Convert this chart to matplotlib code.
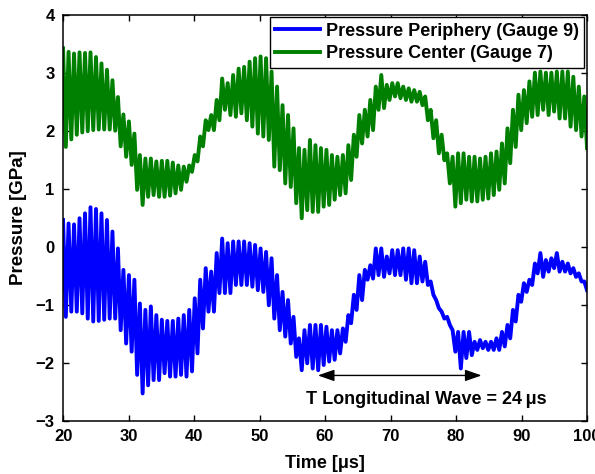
import numpy as np
import matplotlib
matplotlib.use("Agg")
import matplotlib.pyplot as plt

# peak / trough of each oscillation cycle (GPa)
center_peaks = [3.42, 3.36, 3.33, 3.35, 3.34, 3.35, 3.27, 3.16, 3.05, 2.87, 2.58, 2.28, 2.16, 1.95, 1.58, 1.52,
                1.52, 1.47, 1.48, 1.48, 1.45, 1.40, 1.38, 1.40, 1.58, 1.90, 2.18, 2.27, 2.53, 2.90, 2.82, 2.96,
                3.07, 3.10, 3.19, 3.25, 3.28, 3.25, 3.02, 2.76, 2.44, 2.27, 2.04, 1.70, 1.67, 1.84, 1.75, 1.70,
                1.67, 1.58, 1.55, 1.58, 1.75, 1.93, 2.27, 2.36, 2.53, 2.76, 2.96, 2.79, 2.82, 2.82, 2.76, 2.73,
                2.70, 2.67, 2.59, 2.36, 2.18, 1.93, 1.61, 1.55, 1.61, 1.61, 1.55, 1.55, 1.52, 1.55, 1.61, 1.64,
                1.78, 2.04, 2.36, 2.62, 2.70, 2.85, 3.00, 3.02, 3.00, 3.00, 3.02, 3.02, 3.02, 2.93, 2.76, 2.59]
center_troughs = [1.72, 1.85, 1.93, 1.97, 1.99, 2.01, 2.02, 2.02, 2.02, 2.00, 1.73, 1.55, 1.41, 0.98, 0.72, 0.86,
                  0.89, 0.86, 0.86, 0.88, 0.92, 0.98, 1.12, 1.29, 1.47, 1.73, 2.01, 2.01, 2.18, 2.36, 2.27, 2.24,
                  2.30, 2.18, 2.07, 1.95, 1.90, 1.84, 1.38, 1.32, 1.09, 1.03, 0.75, 0.49, 0.63, 0.60, 0.60, 0.69,
                  0.72, 0.81, 0.89, 0.92, 1.15, 1.55, 1.78, 1.90, 2.01, 2.36, 2.39, 2.53, 2.59, 2.56, 2.53, 2.50,
                  2.50, 2.44, 2.18, 1.87, 1.61, 1.49, 1.09, 0.69, 0.75, 0.81, 0.78, 0.78, 0.81, 0.83, 0.89, 0.98,
                  1.09, 1.44, 1.72, 2.01, 2.13, 2.24, 2.27, 2.36, 2.27, 2.33, 2.21, 2.21, 2.07, 2.01, 1.90, 1.70]

periph_peaks = [0.46, 0.40, 0.385, 0.49, 0.575, 0.68, 0.65, 0.575, 0.46, 0.26, -0.03, -0.40, -0.49, -0.57, -0.98, -1.09,
                -1.03, -1.18, -1.26, -1.28, -1.28, -1.24, -1.18, -1.09, -0.89, -0.57, -0.37, -0.43, -0.11, 0.14, 0.06, 0.09,
                0.09, 0.09, 0.06, 0.03, -0.03, -0.09, -0.20, -0.49, -0.78, -0.92, -1.21, -1.58, -1.44, -1.35, -1.35, -1.35,
                -1.38, -1.44, -1.44, -1.41, -1.18, -0.83, -0.49, -0.40, -0.32, -0.03, -0.03, -0.17, -0.06, -0.06, -0.03, -0.03,
                -0.06, -0.17, -0.26, -0.60, -0.92, -1.12, -1.21, -1.44, -1.47, -1.47, -1.47, -1.64, -1.61, -1.64, -1.64, -1.58,
                -1.47, -1.35, -1.09, -0.83, -0.63, -0.57, -0.29, -0.11, -0.23, -0.20, -0.11, -0.26, -0.29, -0.37, -0.46, -0.60]
periph_troughs = [-1.21, -1.12, -1.12, -1.15, -1.24, -1.29, -1.28, -1.26, -1.24, -1.24, -1.44, -1.67, -1.81, -2.21, -2.53, -2.39,
                  -2.30, -2.30, -2.18, -2.24, -2.24, -2.21, -2.24, -2.15, -1.84, -1.41, -1.12, -1.12, -0.80, -0.80, -0.80, -0.66,
                  -0.66, -0.66, -0.69, -0.75, -0.78, -1.01, -1.24, -1.44, -1.55, -1.67, -1.90, -2.13, -2.01, -2.10, -2.13, -2.04,
                  -1.98, -1.95, -1.84, -1.64, -1.32, -1.09, -0.92, -0.57, -0.55, -0.49, -0.52, -0.46, -0.49, -0.49, -0.57, -0.63,
                  -0.63, -0.60, -0.66, -0.83, -1.06, -1.24, -1.35, -1.81, -2.10, -1.92, -1.87, -1.78, -1.75, -1.78, -1.78, -1.78,
                  -1.72, -1.58, -1.29, -0.95, -0.78, -0.66, -0.46, -0.52, -0.43, -0.37, -0.43, -0.43, -0.46, -0.52, -0.60, -0.75]

t_start, t_end = 20, 100
arrow_span = (58.9, 83.9)
arrow_y = -2.22
wave_label = "T Longitudinal Wave = 24\u2009\u03bcs"


def zigzag(peaks, troughs):
    vals = np.column_stack([peaks, troughs]).ravel()
    t = np.linspace(t_start, t_end, len(vals))
    return t, vals


plt.rcParams["font.family"] = ["Liberation Sans", "DejaVu Sans"]
plt.rcParams["font.weight"] = "bold"

fig = plt.figure(figsize=(5.95, 4.74), dpi=100)
ax = fig.add_axes([0.106, 0.1125, 0.8806, 0.8565])

t_b, p_b = zigzag(periph_peaks, periph_troughs)
t_g, p_g = zigzag(center_peaks, center_troughs)
ax.plot(t_b, p_b, color="#0000ff", lw=2.8, label="Pressure Periphery (Gauge 9)")
ax.plot(t_g, p_g, color="#008000", lw=2.8, label="Pressure Center (Gauge 7)")

ax.annotate("", xy=(arrow_span[1], arrow_y), xytext=(arrow_span[0], arrow_y),
            arrowprops=dict(arrowstyle="<|-|>,head_length=1.0,head_width=0.35", color="black", lw=1.0,
                            shrinkA=0, shrinkB=0))
ax.text(75.5, -2.64, wave_label, ha="center", va="center", fontsize=13, fontweight="bold")

ax.set_xlim(t_start, t_end)
ax.set_ylim(-3, 4)
ax.set_xticks(range(20, 101, 10))
ax.set_yticks(range(-3, 5))
ax.tick_params(direction="in", top=True, right=True, length=4, width=1, labelsize=12, pad=6)
for lab in ax.get_xticklabels() + ax.get_yticklabels():
    lab.set_fontweight("bold")
for s in ax.spines.values():
    s.set_linewidth(1.1)

ax.set_xlabel("Time [\u03bcs]", fontsize=13, fontweight="bold", labelpad=8)
ax.set_ylabel("Pressure [GPa]", fontsize=13.5, fontweight="bold", labelpad=6)

leg = ax.legend(loc="upper right", fontsize=13, frameon=True, fancybox=False, handlelength=2.5,
                borderaxespad=0.15, labelspacing=0.3, borderpad=0.3, handletextpad=0.3)
leg.get_frame().set_edgecolor("black")
leg.get_frame().set_linewidth(1.0)
leg.get_frame().set_alpha(1)
for txt in leg.get_texts():
    txt.set_fontweight("bold")

fig.savefig("out.png", dpi=100)
